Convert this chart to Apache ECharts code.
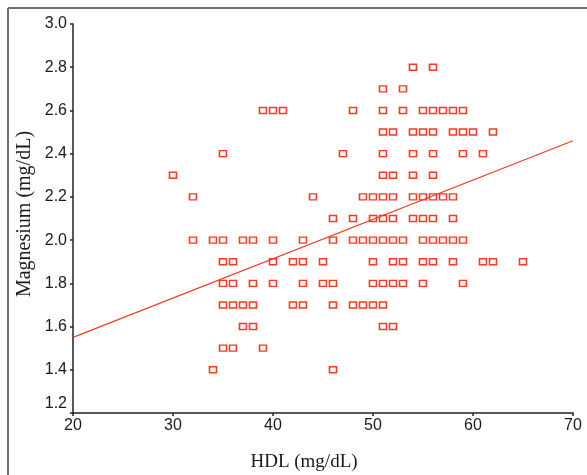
<!DOCTYPE html>
<html>
<head>
<meta charset="utf-8">
<script src="https://cdn.jsdelivr.net/npm/echarts@6/dist/echarts.min.js"></script>
<style>
html,body{margin:0;padding:0;background:#fff;}
#chart{width:587px;height:475px;}
</style>
</head>
<body>
<div id="chart"></div>
<script>
// HDL (x) and Magnesium (y) values, paired by index, listed row by row
const hdl = [
  54, 56,                                             // 2.8
  51, 53,                                             // 2.7
  39, 40, 41, 48, 51, 53, 55, 56, 57, 58, 59,         // 2.6
  51, 52, 54, 55, 56, 58, 59, 60, 62,                 // 2.5
  35, 47, 51, 54, 56, 59, 61,                         // 2.4
  30, 51, 52, 54, 56,                                 // 2.3
  32, 44, 49, 50, 51, 52, 54, 55, 56, 57, 58,         // 2.2
  46, 48, 50, 51, 52, 54, 55, 56, 58,                 // 2.1
  32, 34, 35, 37, 38, 40, 43, 46, 48, 49, 50, 51, 52, 53, 55, 56, 57, 58, 59, // 2.0
  35, 36, 40, 42, 43, 45, 50, 52, 53, 55, 56, 58, 61, 62, 65, // 1.9
  35, 36, 38, 40, 43, 45, 46, 50, 51, 52, 53, 55, 59, // 1.8
  35, 36, 37, 38, 42, 43, 46, 48, 49, 50, 51,         // 1.7
  37, 38, 51, 52,                                     // 1.6
  35, 36, 39,                                         // 1.5
  34, 46                                              // 1.4
];
const magnesium = [
  2.8, 2.8,
  2.7, 2.7,
  2.6, 2.6, 2.6, 2.6, 2.6, 2.6, 2.6, 2.6, 2.6, 2.6, 2.6,
  2.5, 2.5, 2.5, 2.5, 2.5, 2.5, 2.5, 2.5, 2.5,
  2.4, 2.4, 2.4, 2.4, 2.4, 2.4, 2.4,
  2.3, 2.3, 2.3, 2.3, 2.3,
  2.2, 2.2, 2.2, 2.2, 2.2, 2.2, 2.2, 2.2, 2.2, 2.2, 2.2,
  2.1, 2.1, 2.1, 2.1, 2.1, 2.1, 2.1, 2.1, 2.1,
  2.0, 2.0, 2.0, 2.0, 2.0, 2.0, 2.0, 2.0, 2.0, 2.0, 2.0, 2.0, 2.0, 2.0, 2.0, 2.0, 2.0, 2.0, 2.0,
  1.9, 1.9, 1.9, 1.9, 1.9, 1.9, 1.9, 1.9, 1.9, 1.9, 1.9, 1.9, 1.9, 1.9, 1.9,
  1.8, 1.8, 1.8, 1.8, 1.8, 1.8, 1.8, 1.8, 1.8, 1.8, 1.8, 1.8, 1.8,
  1.7, 1.7, 1.7, 1.7, 1.7, 1.7, 1.7, 1.7, 1.7, 1.7, 1.7,
  1.6, 1.6, 1.6, 1.6,
  1.5, 1.5, 1.5,
  1.4, 1.4
];
// Fitted regression line end points
const fitX = [20, 70];
const fitY = [1.55, 2.46];

const xTicks = [20, 30, 40, 50, 60, 70];
const yTicks = [1.2, 1.4, 1.6, 1.8, 2.0, 2.2, 2.4, 2.6, 2.8, 3.0];
const xTitle = 'HDL (mg/dL)';
const yTitle = 'Magnesium (mg/dL)';

const red = '#f23b26';
const ink = '#1a1a1a';
const tickFont = '"Liberation Sans", Arial, sans-serif';

const chart = echarts.init(document.getElementById('chart'), null, {renderer: 'canvas'});
chart.setOption({
  animation: false,
  backgroundColor: '#fff',
  grid: {left: 73, right: 14, top: 24, bottom: 62, containLabel: false},
  xAxis: {
    type: 'value',
    min: xTicks[0], max: xTicks[xTicks.length - 1], interval: 10,
    splitLine: {show: false},
    axisLine: {onZero: false, lineStyle: {color: '#222', width: 1.5}},
    axisTick: {show: true, length: 3, inside: false, lineStyle: {color: '#222', width: 1.5}},
    axisLabel: {color: ink, fontFamily: tickFont, fontSize: 16, margin: 5}
  },
  yAxis: {
    type: 'value',
    min: yTicks[0], max: yTicks[yTicks.length - 1], interval: 0.2,
    splitLine: {show: false},
    axisLine: {onZero: false, lineStyle: {color: '#222', width: 1.5}},
    axisTick: {show: true, length: 3, inside: false, lineStyle: {color: '#222', width: 1.5}},
    axisLabel: {
      color: ink, fontFamily: tickFont, fontSize: 16, margin: 6,
      formatter: function (v) {
        const s = v.toFixed(1);
        return Math.abs(v - yTicks[0]) < 1e-6 ? '{low|' + s + '}' : s;
      },
      rich: {low: {padding: [0, 0, 18, 0], color: ink, fontFamily: tickFont, fontSize: 16}}
    }
  },
  graphic: [
    {type: 'line', shape: {x1: 8, y1: 8, x2: 8, y2: 475}, style: {stroke: '#6e6e6e', lineWidth: 2}},
    {type: 'line', shape: {x1: 8, y1: 8, x2: 587, y2: 8}, style: {stroke: '#6e6e6e', lineWidth: 2}},
    {type: 'text', x: 304, y: 462, style: {text: xTitle, font: '19px "Liberation Serif", serif', fill: ink, textAlign: 'center', textVerticalAlign: 'middle'}},
    {type: 'text', x: 25, y: 214, rotation: Math.PI / 2, style: {text: yTitle, font: '20px "Liberation Serif", serif', fill: ink, textAlign: 'center', textVerticalAlign: 'middle'}}
  ],
  series: [
    {
      type: 'scatter',
      data: hdl.map((x, i) => [x, magnesium[i]]),
      symbol: 'rect',
      symbolSize: [7, 6],
      itemStyle: {color: '#fff', borderColor: red, borderWidth: 1.5, opacity: 1},
      z: 2
    },
    {
      type: 'line',
      data: fitX.map((x, i) => [x, fitY[i]]),
      showSymbol: false,
      symbol: 'none',
      lineStyle: {color: red, width: 1.2},
      z: 3
    }
  ]
});
</script>
</body>
</html>
